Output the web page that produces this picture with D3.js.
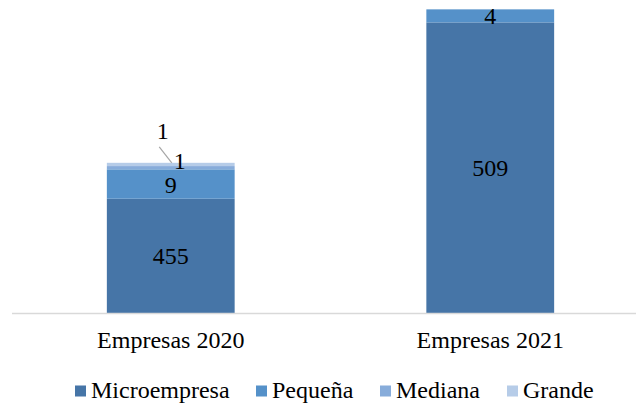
<!DOCTYPE html>
<html><head><meta charset="utf-8">
<script src="https://cdn.jsdelivr.net/npm/d3@7"></script>
<style>body{margin:0;background:#fff}svg{display:block}text{font-family:"Liberation Serif","Times New Roman",serif;fill:#000}</style>
</head><body><svg id="c" width="636" height="406"></svg>
<script>
const categories = ["Empresas 2020", "Empresas 2021"];
const seriesNames = ["Microempresa", "Pequeña", "Mediana", "Grande"];
const microempresa = [455, 509];
const pequena = [9, 4];
const mediana = [1, 0];
const grande = [1, 0];
const colors = ["#4675A7", "#5591C9", "#87ACDA", "#B6CCE8"];

const svg = d3.select("#c");
const x = d3.scaleBand().domain(categories).range([11, 650]).paddingInner(0.6).paddingOuter(0.3);
const y = d3.scaleLinear().domain([420, 520]).range([313, -13.5]);

const rows = categories.map((c, i) => ({cat: c, Microempresa: microempresa[i], "Pequeña": pequena[i], Mediana: mediana[i], Grande: grande[i]}));
const stack = d3.stack().keys(seriesNames)(rows);

svg.append("g").selectAll("g").data(stack).join("g")
  .attr("fill", (d, i) => colors[i])
  .selectAll("rect").data(d => d.map(v => ({v, key: d.key}))).join("rect")
  .filter(d => d.v[1] - d.v[0] > 0)
  .attr("x", d => x(d.v.data.cat))
  .attr("width", x.bandwidth())
  .attr("y", d => y(Math.max(d.v[1], 420)))
  .attr("height", d => y(Math.max(d.v[0], 420)) - y(Math.max(d.v[1], 420)));

svg.append("line").attr("x1", 12).attr("x2", 636).attr("y1", 313.5).attr("y2", 313.5).attr("stroke", "#d9d9d9").attr("stroke-width", 1.5);

svg.append("g").selectAll("text").data(categories).join("text")
  .attr("x", d => x(d) + x.bandwidth() / 2).attr("y", 348)
  .attr("text-anchor", "middle").attr("font-size", 24).text(d => d);

const lab = svg.append("g").attr("font-size", 24).attr("text-anchor", "middle");
stack.forEach((s, si) => {
  s.forEach(v => {
    const val = v[1] - v[0];
    if (val <= 0) return;
    const cx = x(v.data.cat) + x.bandwidth() / 2;
    const mid = (y(Math.max(v[0], 420)) + y(v[1])) / 2;
    if (si === 2) {
      lab.append("text").attr("x", cx + 9).attr("y", y(v[1]) + 3).text(val);
    } else if (si === 3) {
      lab.append("line").attr("x1", cx - 11.5).attr("y1", y(v[1]) - 16).attr("x2", cx + 1).attr("y2", y(v[1]))
        .attr("stroke", "#a6a6a6").attr("stroke-width", 1.2);
      lab.append("text").attr("x", cx - 8).attr("y", y(v[1]) - 24).text(val);
    } else {
      lab.append("text").attr("x", cx).attr("y", mid + 8.5).text(val);
    }
  });
});

const legX = [75, 256, 380, 507];
const leg = svg.append("g").selectAll("g").data(seriesNames).join("g")
  .attr("transform", (d, i) => `translate(${legX[i]},391)`);
leg.append("rect").attr("x", 0).attr("y", -5.5).attr("width", 11).attr("height", 11).attr("fill", (d, i) => colors[i]);
leg.append("text").attr("x", 16).attr("y", 7).attr("font-size", 24).text(d => d);
</script></body></html>
